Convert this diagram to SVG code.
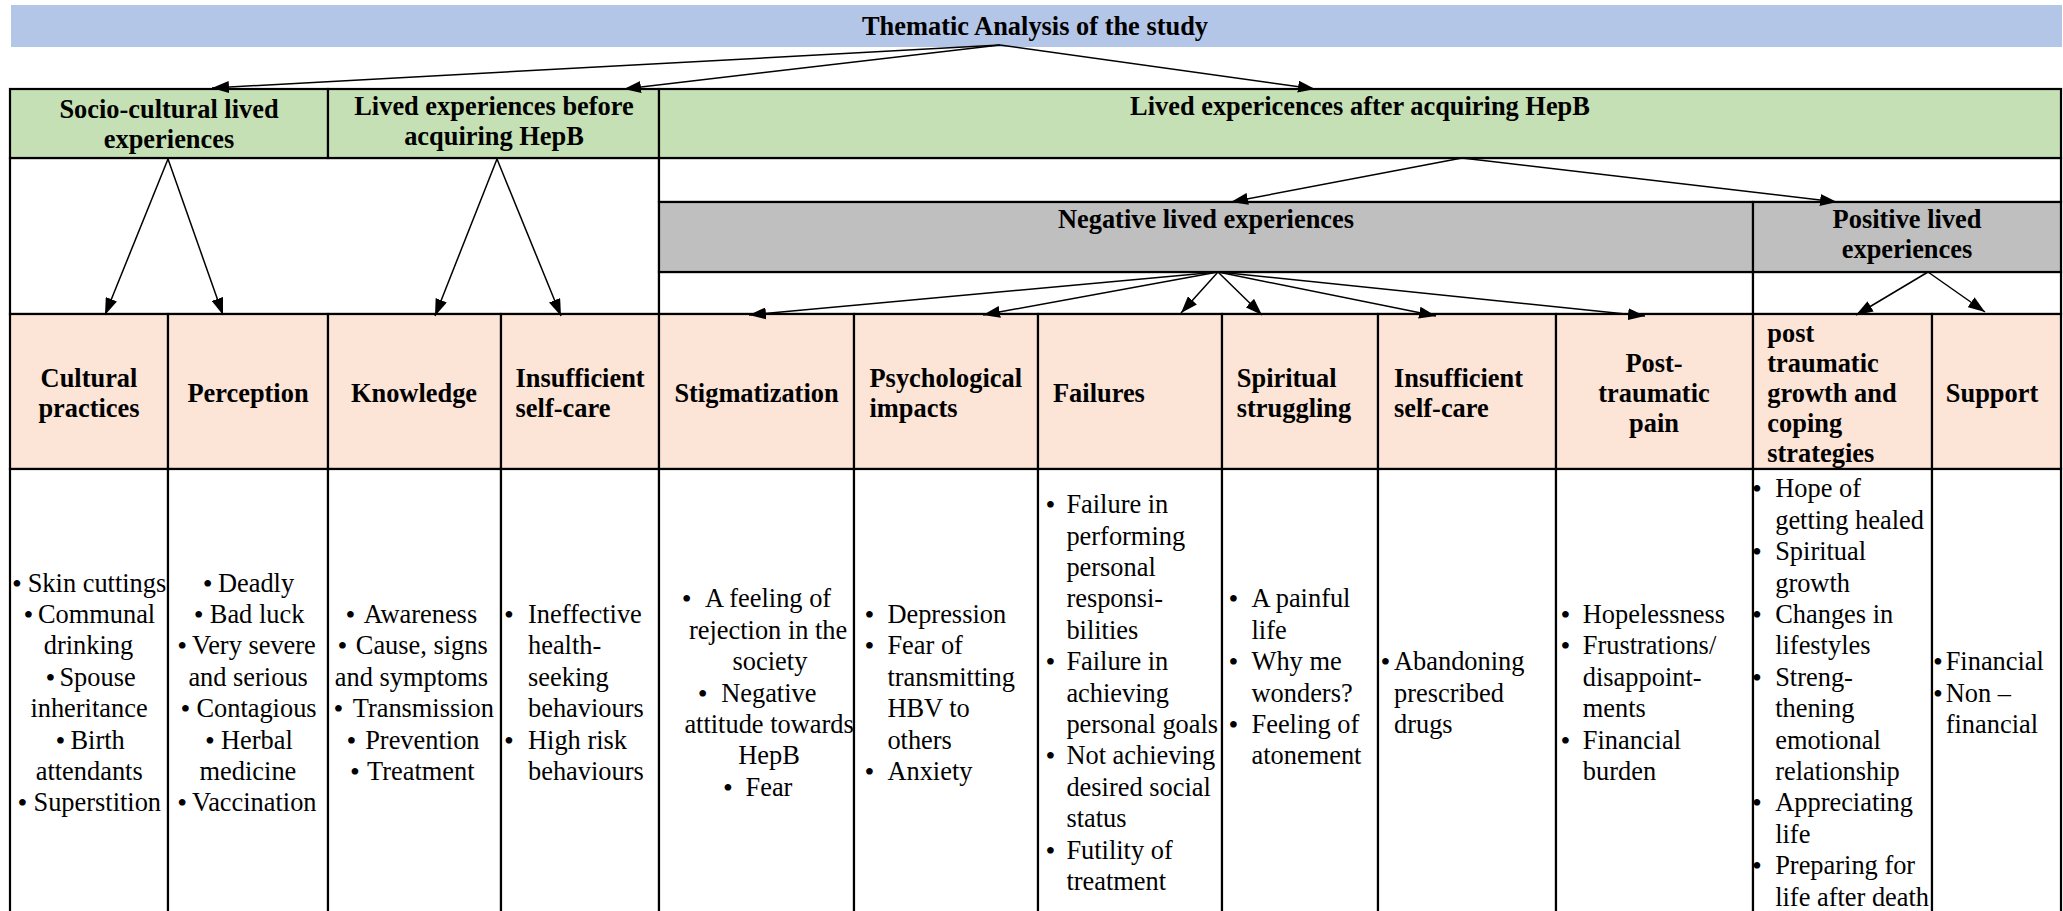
<svg xmlns="http://www.w3.org/2000/svg" width="2063" height="911" viewBox="0 0 2063 911">
<style>
text{font-family:"Liberation Serif","Times New Roman",serif;font-size:26.4px;fill:#000}
.h{font-weight:bold}
.c{text-anchor:middle}
.b{font-size:28px;text-anchor:middle}
.cell{stroke:#000;stroke-width:2.2}
.g{fill:#C5E0B4}
.p{fill:#FCE4D6}
.w{fill:#fff}
.gr{fill:#BFBFBF}
.con line{stroke:#000;stroke-width:1.5;marker-end:url(#ah)}
</style>
<defs>
<marker id="ah" markerUnits="userSpaceOnUse" markerWidth="17" markerHeight="12" refX="17" refY="6" orient="auto">
<path d="M0,0 L17,6 L0,12 z" fill="#000"/>
</marker>
</defs>
<rect width="2063" height="911" fill="#fff"/>

<g id="title">
<rect x="11" y="5" width="2051" height="42" fill="#B4C6E7"/>
<text class="h c" x="1035" y="35">Thematic Analysis of the study</text>
</g>

<g id="frame">
<rect class="cell w" x="10" y="158" width="649" height="156"/>
<rect class="cell w" x="659" y="158" width="1402" height="44"/>
<rect class="cell w" x="659" y="272" width="1094" height="42"/>
<rect class="cell w" x="1753" y="272" width="308" height="42"/>
</g>

<g id="socio">
<rect class="cell g" x="10" y="89" width="318" height="69"/>
<text class="h c" x="169" y="118">Socio-cultural lived</text>
<text class="h c" x="169" y="148">experiences</text>
</g>
<g id="before">
<rect class="cell g" x="328" y="89" width="331" height="69"/>
<text class="h c" x="494" y="115">Lived experiences before</text>
<text class="h c" x="494" y="145">acquiring HepB</text>
</g>
<g id="after">
<rect class="cell g" x="659" y="89" width="1402" height="69"/>
<text class="h c" x="1360" y="115">Lived expericences after acquiring HepB</text>
</g>
<g id="negative">
<rect class="cell gr" x="659" y="202" width="1094" height="70"/>
<text class="h c" x="1206" y="227.5">Negative lived experiences</text>
</g>
<g id="positive">
<rect class="cell gr" x="1753" y="202" width="308" height="70"/>
<text class="h c" x="1907" y="228">Positive lived</text>
<text class="h c" x="1907" y="258">experiences</text>
</g>

<g id="cultural">
<rect class="cell p" x="10" y="314" width="158" height="155"/>
<text class="h c" x="89" y="387">Cultural</text>
<text class="h c" x="89" y="417">practices</text>
<rect class="cell w" x="10" y="469" width="158" height="450"/>
<text class="b" x="17" y="592.6">•</text><text x="27.7" y="591.6">Skin cuttings</text>
<text class="b" x="28.3" y="624">•</text><text x="37.9" y="623">Communal</text>
<text x="43.8" y="654.4">drinking</text>
<text class="b" x="50.5" y="686.8">•</text><text x="59.4" y="685.8">Spouse</text>
<text x="30.4" y="717.2">inheritance</text>
<text class="b" x="60.3" y="749.6">•</text><text x="70.5" y="748.6">Birth</text>
<text x="35.7" y="780">attendants</text>
<text class="b" x="22.4" y="812.4">•</text><text x="33.5" y="811.4">Superstition</text>
</g>

<g id="perception">
<rect class="cell p" x="168" y="314" width="160" height="155"/>
<text class="h c" x="248" y="401.7">Perception</text>
<rect class="cell w" x="168" y="469" width="160" height="450"/>
<text class="b" x="207.6" y="592.6">•</text><text x="217.9" y="591.6">Deadly</text>
<text class="b" x="198.7" y="624">•</text><text x="209.8" y="623">Bad luck</text>
<text class="b" x="182.2" y="655.4">•</text><text x="192" y="654.4">Very severe</text>
<text x="188.4" y="685.8">and serious</text>
<text class="b" x="185.3" y="718.2">•</text><text x="196.4" y="717.2">Contagious</text>
<text class="b" x="209.9" y="749.6">•</text><text x="221" y="748.6">Herbal</text>
<text x="199.6" y="780">medicine</text>
<text class="b" x="182.2" y="812.4">•</text><text x="192" y="811.4">Vaccination</text>
</g>

<g id="knowledge">
<rect class="cell p" x="328" y="314" width="173" height="155"/>
<text class="h c" x="414" y="401.7">Knowledge</text>
<rect class="cell w" x="328" y="469" width="173" height="450"/>
<text class="b" x="350.5" y="624">•</text><text x="363.8" y="623">Awareness</text>
<text class="b" x="342.5" y="655.4">•</text><text x="355.8" y="654.4">Cause, signs</text>
<text x="334.8" y="685.8">and symptoms</text>
<text class="b" x="338.5" y="718.2">•</text><text x="352.7" y="717.2">Transmission</text>
<text class="b" x="351.4" y="749.6">•</text><text x="365.2" y="748.6">Prevention</text>
<text class="b" x="354.9" y="781">•</text><text x="367" y="780">Treatment</text>
</g>

<g id="selfcare-before">
<rect class="cell p" x="501" y="314" width="158" height="155"/>
<text class="h" x="515.6" y="387">Insufficient</text>
<text class="h" x="515.6" y="417">self-care</text>
<rect class="cell w" x="501" y="469" width="158" height="450"/>
<text class="b" x="509" y="624">•</text><text x="528" y="623">Ineffective</text>
<text x="528" y="654.4">health-</text>
<text x="528" y="685.8">seeking</text>
<text x="528" y="717.2">behaviours</text>
<text class="b" x="509" y="749.6">•</text><text x="528" y="748.6">High risk</text>
<text x="528" y="780">behaviours</text>
</g>

<g id="stigmatization">
<rect class="cell p" x="659" y="314" width="195" height="155"/>
<text class="h c" x="756.5" y="401.7">Stigmatization</text>
<rect class="cell w" x="659" y="469" width="195" height="450"/>
<text class="b" x="686.7" y="608.3">•</text><text x="705.1" y="607.3">A feeling of</text>
<text x="689" y="638.7">rejection in the</text>
<text x="732.6" y="670.1">society</text>
<text class="b" x="702.7" y="702.5">•</text><text x="721.2" y="701.5">Negative</text>
<text x="684.4" y="732.9">attitude towards</text>
<text x="738.2" y="764.3">HepB</text>
<text class="b" x="728" y="796.7">•</text><text x="745.5" y="795.7">Fear</text>
</g>

<g id="psychological">
<rect class="cell p" x="854" y="314" width="184" height="155"/>
<text class="h" x="869.5" y="387">Psychological</text>
<text class="h" x="869.5" y="417">impacts</text>
<rect class="cell w" x="854" y="469" width="184" height="450"/>
<text class="b" x="869.5" y="624">•</text><text x="887.4" y="623">Depression</text>
<text class="b" x="869.5" y="655.4">•</text><text x="887.4" y="654.4">Fear of</text>
<text x="887.4" y="685.8">transmitting</text>
<text x="887.4" y="717.2">HBV to</text>
<text x="887.4" y="748.6">others</text>
<text class="b" x="869.5" y="781">•</text><text x="887.4" y="780">Anxiety</text>
</g>

<g id="failures">
<rect class="cell p" x="1038" y="314" width="184" height="155"/>
<text class="h" x="1053" y="401.7">Failures</text>
<rect class="cell w" x="1038" y="469" width="184" height="450"/>
<text class="b" x="1050.5" y="514.1">•</text><text x="1066.4" y="513.1">Failure in</text>
<text x="1066.4" y="544.5">performing</text>
<text x="1066.4" y="575.9">personal</text>
<text x="1066.4" y="607.3">responsi-</text>
<text x="1066.4" y="638.7">bilities</text>
<text class="b" x="1050.5" y="671.1">•</text><text x="1066.4" y="670.1">Failure in</text>
<text x="1066.4" y="701.5">achieving</text>
<text x="1066.4" y="732.9">personal goals</text>
<text class="b" x="1050.5" y="765.3">•</text><text x="1066.4" y="764.3">Not achieving</text>
<text x="1066.4" y="795.7">desired social</text>
<text x="1066.4" y="827.1">status</text>
<text class="b" x="1050.5" y="859.5">•</text><text x="1066.4" y="858.5">Futility of</text>
<text x="1066.4" y="889.9">treatment</text>
</g>

<g id="spiritual">
<rect class="cell p" x="1222" y="314" width="156" height="155"/>
<text class="h" x="1236.8" y="387">Spiritual</text>
<text class="h" x="1236.8" y="417">struggling</text>
<rect class="cell w" x="1222" y="469" width="156" height="450"/>
<text class="b" x="1233.5" y="608.3">•</text><text x="1251.5" y="607.3">A painful</text>
<text x="1251.5" y="638.7">life</text>
<text class="b" x="1233.5" y="671.1">•</text><text x="1251.5" y="670.1">Why me</text>
<text x="1251.5" y="701.5">wonders?</text>
<text class="b" x="1233.5" y="733.9">•</text><text x="1251.5" y="732.9">Feeling of</text>
<text x="1251.5" y="764.3">atonement</text>
</g>

<g id="selfcare-after">
<rect class="cell p" x="1378" y="314" width="178" height="155"/>
<text class="h" x="1394" y="387">Insufficient</text>
<text class="h" x="1394" y="417">self-care</text>
<rect class="cell w" x="1378" y="469" width="178" height="450"/>
<text class="b" x="1385.5" y="671.1">•</text><text x="1394" y="670.1">Abandoning</text>
<text x="1394" y="701.5">prescribed</text>
<text x="1394" y="732.9">drugs</text>
</g>

<g id="post-traumatic-pain">
<rect class="cell p" x="1556" y="314" width="197" height="155"/>
<text class="h c" x="1654" y="371.7">Post-</text>
<text class="h c" x="1654" y="401.7">traumatic</text>
<text class="h c" x="1654" y="431.7">pain</text>
<rect class="cell w" x="1556" y="469" width="197" height="450"/>
<text class="b" x="1565.5" y="624">•</text><text x="1582.8" y="623">Hopelessness</text>
<text class="b" x="1565.5" y="655.4">•</text><text x="1582.8" y="654.4">Frustrations/</text>
<text x="1582.8" y="685.8">disappoint-</text>
<text x="1582.8" y="717.2">ments</text>
<text class="b" x="1565.5" y="749.6">•</text><text x="1582.8" y="748.6">Financial</text>
<text x="1582.8" y="780">burden</text>
</g>

<g id="growth-coping">
<rect class="cell p" x="1753" y="314" width="179" height="155"/>
<text class="h" x="1767.3" y="341.7">post</text>
<text class="h" x="1767.3" y="371.7">traumatic</text>
<text class="h" x="1767.3" y="401.7">growth and</text>
<text class="h" x="1767.3" y="431.7">coping</text>
<text class="h" x="1767.3" y="461.7">strategies</text>
<rect class="cell w" x="1753" y="469" width="179" height="450"/>
<text class="b" x="1757" y="498.4">•</text><text x="1775.2" y="497.4">Hope of</text>
<text x="1775.2" y="528.8">getting healed</text>
<text class="b" x="1757" y="561.2">•</text><text x="1775.2" y="560.2">Spiritual</text>
<text x="1775.2" y="591.6">growth</text>
<text class="b" x="1757" y="624">•</text><text x="1775.2" y="623">Changes in</text>
<text x="1775.2" y="654.4">lifestyles</text>
<text class="b" x="1757" y="686.8">•</text><text x="1775.2" y="685.8">Streng-</text>
<text x="1775.2" y="717.2">thening</text>
<text x="1775.2" y="748.6">emotional</text>
<text x="1775.2" y="780">relationship</text>
<text class="b" x="1757" y="812.4">•</text><text x="1775.2" y="811.4">Appreciating</text>
<text x="1775.2" y="842.8">life</text>
<text class="b" x="1757" y="875.2">•</text><text x="1775.2" y="874.2">Preparing for</text>
<text x="1775.2" y="905.6">life after death</text>
</g>

<g id="support">
<rect class="cell p" x="1932" y="314" width="129" height="155"/>
<text class="h c" x="1992" y="401.7">Support</text>
<rect class="cell w" x="1932" y="469" width="129" height="450"/>
<text class="b" x="1938" y="671.1">•</text><text x="1945.7" y="670.1">Financial</text>
<text class="b" x="1938" y="702.5">•</text><text x="1945.7" y="701.5">Non –</text>
<text x="1945.7" y="732.9">financial</text>
</g>

<g id="connectors" class="con">
<line x1="1000" y1="45" x2="212" y2="88"/>
<line x1="1000" y1="45" x2="624" y2="89"/>
<line x1="1000" y1="45" x2="1315" y2="89"/>
<line x1="168" y1="159" x2="105" y2="315"/>
<line x1="168" y1="159" x2="223" y2="315"/>
<line x1="497" y1="159" x2="435" y2="316"/>
<line x1="497" y1="159" x2="561" y2="316"/>
<line x1="1462" y1="158" x2="1231" y2="202"/>
<line x1="1462" y1="158" x2="1837" y2="202"/>
<line x1="1218" y1="272" x2="749" y2="315"/>
<line x1="1218" y1="272" x2="983" y2="315"/>
<line x1="1218" y1="272" x2="1181" y2="313"/>
<line x1="1218" y1="272" x2="1262" y2="315"/>
<line x1="1218" y1="272" x2="1436" y2="316"/>
<line x1="1218" y1="272" x2="1645" y2="316"/>
<line x1="1928" y1="272" x2="1856" y2="315"/>
<line x1="1928" y1="272" x2="1985" y2="312"/>
</g>
</svg>
